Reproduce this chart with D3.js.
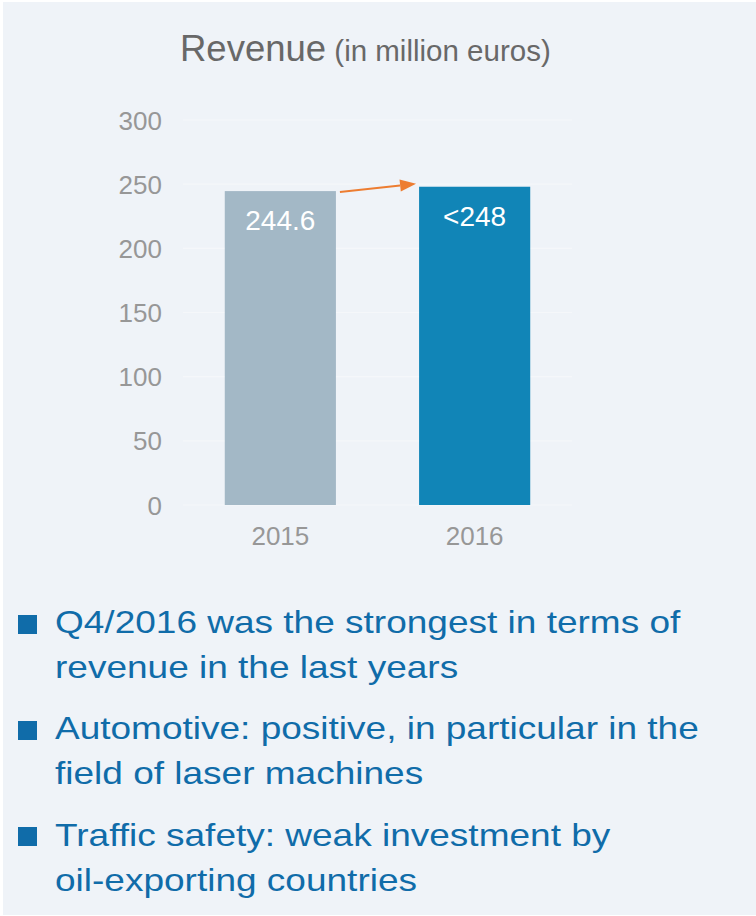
<!DOCTYPE html>
<html><head><meta charset="utf-8">
<script src="https://cdn.jsdelivr.net/npm/d3@7"></script>
<style>
html,body{margin:0;padding:0;background:#fff;}
svg{display:block;font-family:"Liberation Sans",Arial,Helvetica,sans-serif;}
</style></head>
<body>
<svg id="c" width="756" height="916"></svg>
<script>
const categories = ["2015", "2016"];
const values = [244.6, 248];
const valueLabels = ["244.6", "<248"];
const barColors = ["#a3b8c6", "#1185b7"];
const yTicks = [0, 50, 100, 150, 200, 250, 300];
const titleMain = "Revenue";
const titleSub = " (in million euros)";
const bullets = [
  ["Q4/2016 was the strongest in terms of", "revenue in the last years"],
  ["Automotive: positive, in particular in the", "field of laser machines"],
  ["Traffic safety: weak investment by", "oil-exporting countries"]
];

const svg = d3.select("#c");
svg.append("rect").attr("x", 3).attr("y", 2).attr("width", 753).attr("height", 913).attr("fill", "#eff3f8");

const x = d3.scaleBand().domain(categories).range([183, 572]).paddingInner(0.428).paddingOuter(0.215);
const y = d3.scaleLinear().domain([0, 300]).range([505, 120]);

// gridlines
svg.append("g").selectAll("line").data(yTicks).join("line")
  .attr("x1", 183).attr("x2", 572)
  .attr("y1", d => y(d)).attr("y2", d => y(d))
  .attr("stroke", "#f5f7fa").attr("stroke-width", 1.2);

// y axis labels
const yAxis = d3.axisLeft(y).tickValues(yTicks).tickSize(0).tickPadding(0);
const ya = svg.append("g").attr("transform", "translate(162,0)").call(yAxis);
ya.select(".domain").remove();
ya.selectAll("text").attr("font-size", 26).attr("fill", "#979797")
  .attr("font-family", "'Liberation Sans', Arial, sans-serif").attr("dy", "0.35em");

// x axis labels
const xAxis = d3.axisBottom(x).tickSize(0).tickPadding(0);
const xa = svg.append("g").attr("transform", "translate(0,545)").call(xAxis);
xa.select(".domain").remove();
xa.selectAll("text").attr("font-size", 26).attr("fill", "#979797")
  .attr("font-family", "'Liberation Sans', Arial, sans-serif").attr("dy", 0).attr("y", 0);

// bars
svg.append("g").selectAll("rect").data(values).join("rect")
  .attr("x", (d, i) => x(categories[i]))
  .attr("width", x.bandwidth())
  .attr("y", d => y(d))
  .attr("height", d => y(0) - y(d))
  .attr("fill", (d, i) => barColors[i]);

// value labels
svg.append("g").selectAll("text").data(values).join("text")
  .attr("x", (d, i) => x(categories[i]) + x.bandwidth() / 2)
  .attr("y", d => y(d) + 39)
  .attr("text-anchor", "middle")
  .attr("font-size", 28).attr("fill", "#ffffff")
  .text((d, i) => valueLabels[i]);

// arrow
const x1 = x(categories[0]) + x.bandwidth() + 4, y1 = y(values[0]) + 1;
const x2 = x(categories[1]) - 3, y2 = y(values[1]) - 3;
const ang = Math.atan2(y2 - y1, x2 - x1);
const hl = 16, hw = 6;
const bx = x2 - hl * Math.cos(ang), by = y2 - hl * Math.sin(ang);
svg.append("line").attr("x1", x1).attr("y1", y1).attr("x2", bx).attr("y2", by)
  .attr("stroke", "#ed7d31").attr("stroke-width", 2);
svg.append("path")
  .attr("d", `M${x2},${y2}L${bx - hw * Math.sin(ang)},${by + hw * Math.cos(ang)}L${bx + hw * Math.sin(ang)},${by - hw * Math.cos(ang)}Z`)
  .attr("fill", "#ed7d31");

// title
const t = svg.append("text").attr("x", 180).attr("y", 61).attr("fill", "#686868");
t.append("tspan").attr("font-size", 36.5).text(titleMain);
t.append("tspan").attr("font-size", 29.5).text(titleSub);

// bullets
const bulletTop = [615, 721, 827];
const baseline1 = [633, 739, 846];
const lineGap = 45;
const bg = svg.append("g");
bullets.forEach((lines, i) => {
  bg.append("rect").attr("x", 18).attr("y", bulletTop[i]).attr("width", 19).attr("height", 19).attr("fill", "#106ca9");
  const tt = bg.append("text")
    .attr("transform", `translate(55,${baseline1[i]}) scale(1.175,1)`)
    .attr("font-size", 31.5).attr("fill", "#106ca9");
  lines.forEach((ln, j) => {
    tt.append("tspan").attr("x", 0).attr("y", j * lineGap).text(ln);
  });
});
</script>
</body></html>
